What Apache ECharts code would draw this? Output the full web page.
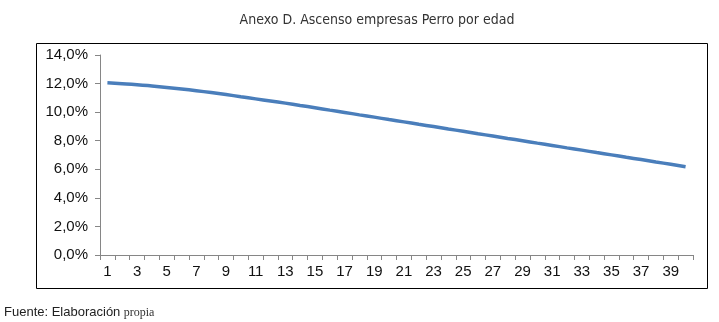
<!DOCTYPE html>
<html>
<head>
<meta charset="utf-8">
<script src="https://cdn.jsdelivr.net/npm/echarts@6/dist/echarts.min.js"></script>
<style>html,body{margin:0;padding:0;background:#fff}#c{width:719px;height:322px}</style>
</head>
<body>
<div id="c"></div>
<script>
const titleText = "Anexo D. Ascenso empresas Perro por edad";
const sourceLabel = "Fuente: Elaboración";
const sourceTail = "propia";
const categories = ["1","2","3","4","5","6","7","8","9","10","11","12","13","14","15","16","17","18","19","20",
  "21","22","23","24","25","26","27","28","29","30","31","32","33","34","35","36","37","38","39","40"];
const values = [12.05,11.99,11.92,11.83,11.73,11.62,11.50,11.37,11.23,11.08,
  10.93,10.78,10.63,10.47,10.31,10.14,9.98,9.81,9.65,9.48,
  9.32,9.15,8.99,8.82,8.66,8.49,8.33,8.16,8.00,7.83,
  7.67,7.50,7.34,7.17,7.01,6.84,6.68,6.51,6.35,6.18];

const chart = echarts.init(document.getElementById('c'), null, {renderer:'canvas'});
chart.setOption({
  animation:false,
  backgroundColor:'#fff',
  title:{text:titleText,left:372,textAlign:'center',top:8,
    textStyle:{fontFamily:'"Liberation Sans Narrow","DejaVu Sans Condensed",sans-serif',fontSize:14,fontWeight:'normal',color:'#333'}},
  graphic:[
    {type:'rect',shape:{x:36.5,y:43.5,width:671,height:245},style:{fill:'none',stroke:'#000',lineWidth:1},silent:true,z:-1},
    {type:'text',left:4,top:306,style:{rich:{a:{fontFamily:'"Liberation Sans Narrow",sans-serif',fontSize:13,fill:'#222'},b:{fontFamily:'"Liberation Serif",serif',fontSize:12,fill:'#333'}},text:'{a|'+sourceLabel+'} {b|'+sourceTail+'}'}}
  ],
  grid:{left:100,right:26,top:55,bottom:67},
  xAxis:{type:'category',data:categories,boundaryGap:true,
    axisLine:{lineStyle:{color:'#868686'}},
    axisTick:{show:true,interval:0,length:5,lineStyle:{color:'#868686'}},
    axisLabel:{interval:1,margin:9,fontFamily:'"Liberation Sans",Arial,sans-serif',fontSize:15,color:'#111'}},
  yAxis:{type:'value',min:0,max:14,interval:2,
    axisLine:{show:true,lineStyle:{color:'#868686'}},
    axisTick:{show:true,length:5,lineStyle:{color:'#868686'}},
    splitLine:{show:false},
    axisLabel:{margin:12,fontFamily:'"Liberation Sans",Arial,sans-serif',fontSize:15,color:'#111',
      formatter:v=>v.toFixed(1).replace('.',',')+'%'}},
  series:[{type:'line',data:values,smooth:true,showSymbol:false,
    lineStyle:{color:'#4a7ebb',width:3.5}}]
});
</script>
</body>
</html>
